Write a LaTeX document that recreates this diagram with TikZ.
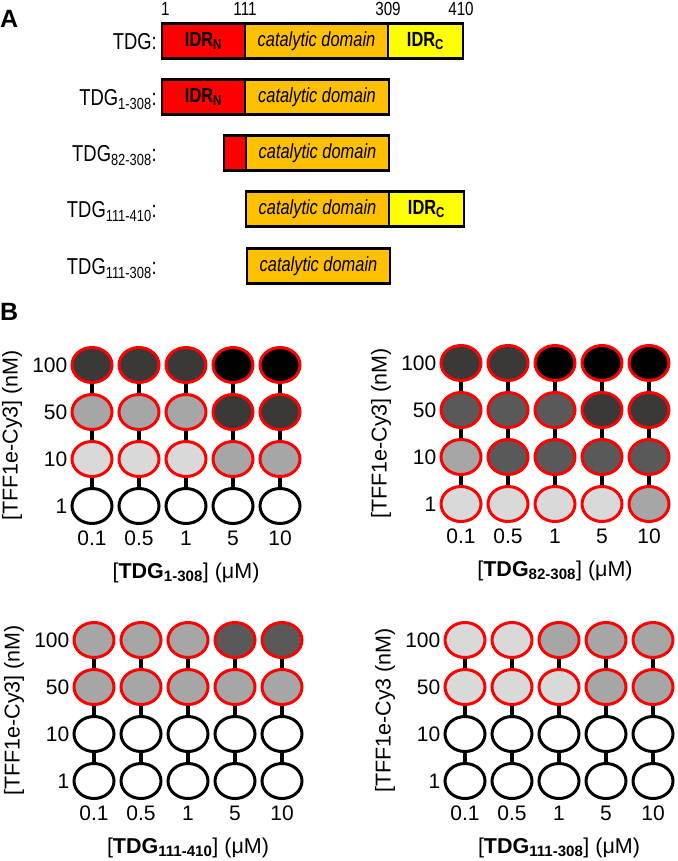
\documentclass[tikz,border=0pt]{standalone}
\usepackage{fontspec}
\setmainfont{Liberation Sans}
\newfontfamily\narrowfont[FakeStretch=0.8]{Liberation Sans}
\usepackage{xcolor}
\usepackage{tikz}
\usetikzlibrary{positioning, shapes.geometric}

\definecolor{idrred}{HTML}{FF0000}
\definecolor{catorange}{HTML}{FFC000}
\definecolor{idryellow}{HTML}{FFFF00}
% spot shades (fill / ring)
\colorlet{dotw}{white}\colorlet{ringw}{black}
\definecolor{dotl}{HTML}{D9D9D9}\colorlet{ringl}{red}
\definecolor{dotg}{HTML}{A6A6A6}\colorlet{ringg}{red}
\definecolor{dotm}{HTML}{595959}\colorlet{ringm}{red}
\definecolor{dotd}{HTML}{3B3838}\colorlet{ringd}{red}
\colorlet{dotk}{black}\colorlet{ringk}{red}

\begin{document}
\begin{tikzpicture}[
        x=1pt, y=-1pt,
        seg/.style={rectangle, draw=black, line width=2.4pt, minimum height=35pt, inner sep=0pt, outer sep=0pt, font=\narrowfont\fontsize{20.5}{22}\selectfont},
        construct/.style={anchor=base east, inner sep=0pt, font=\narrowfont\fontsize{23}{26}\selectfont},
        resnum/.style={inner sep=0pt, font=\narrowfont\fontsize{19}{20}\selectfont},
        panel/.style={anchor=north west, inner sep=0pt, font=\bfseries\fontsize{25}{28}\selectfont},
        spot/.style={ellipse, minimum width=40pt, minimum height=35pt, inner sep=0pt, line width=3pt, fill=dot#1, draw=ring#1},
        link/.style={line width=3.2pt, draw=black},
        ticklbl/.style={inner sep=0pt, font=\fontsize{21}{24}\selectfont},
        axtitle/.style={inner sep=0pt, font=\fontsize{21.5}{24}\selectfont},
    ]
        \useasboundingbox (0,0) rectangle (677,861);

        % Panel letters
        \node[panel] (pa) at (0,10) {A};
        \node[panel] (pb) at (0,303) {B};

        % Residue numbers
        \node[resnum, anchor=west] (r1) at (161,9) {1};
        \node[resnum] (r111) at (245,9) {111};
        \node[resnum] (r309) at (388,9) {309};
        \node[resnum] (r410) at (461,9) {410};

        % Full-length TDG
        \node[seg, fill=idrred, minimum width=83pt, anchor=west] (fl-n) at (162,41) {\textbf{IDR\textsubscript{N}}};
        \node[seg, fill=catorange, minimum width=143pt, right=0pt of fl-n] (fl-cat) {\itshape catalytic domain};
        \node[seg, fill=idryellow, minimum width=75pt, right=0pt of fl-cat] (fl-c) {\textbf{IDR\textsubscript{C}}};
        \node[construct] (fl-lbl) at (157,49.5) {TDG:};

        % TDG 1-308
        \node[seg, fill=idrred, minimum width=83pt, anchor=west] (t1-n) at (162,97) {\textbf{IDR\textsubscript{N}}};
        \node[seg, fill=catorange, minimum width=144pt, right=0pt of t1-n] (t1-cat) {\itshape catalytic domain};
        \node[construct] (t1-lbl) at (157,105.5) {TDG\textsubscript{1-308}:};

        % TDG 82-308
        \node[seg, fill=idrred, minimum width=22pt, anchor=west] (t82-n) at (224,153) {};
        \node[seg, fill=catorange, minimum width=143pt, right=0pt of t82-n] (t82-cat) {\itshape catalytic domain};
        \node[construct] (t82-lbl) at (157,161.5) {TDG\textsubscript{82-308}:};

        % TDG 111-410
        \node[seg, fill=catorange, minimum width=143pt, anchor=west] (t111-cat) at (246,209) {\itshape catalytic domain};
        \node[seg, fill=idryellow, minimum width=75pt, right=0pt of t111-cat] (t111-c) {\textbf{IDR\textsubscript{C}}};
        \node[construct] (t111-lbl) at (157,217.5) {TDG\textsubscript{111-410}:};

        % TDG 111-308
        \node[seg, fill=catorange, minimum width=143pt, anchor=west] (tcd-cat) at (247,266) {\itshape catalytic domain};
        \node[construct] (tcd-lbl) at (157,274.5) {TDG\textsubscript{111-308}:};

        % Binding grids
        \foreach \g/\ox/\oy/\spots/\sub/\ytext in {
            a/92/365/{d,d,d,k,k,g,g,g,d,d,l,l,l,g,g,w,w,w,w,w}/1-308/{[TFF1e-Cy3] (nM)},
            b/461/363/{d,d,k,k,k,m,m,m,d,d,g,m,m,m,m,l,l,l,l,g}/82-308/{[TFF1e-Cy3] (nM)},
            c/94/640/{g,g,g,m,m,g,g,g,g,g,w,w,w,w,w,w,w,w,w,w}/111-410/{[TFF1e-Cy3] (nM)},
            d/465/640/{l,l,g,g,g,l,l,l,g,g,w,w,w,w,w,w,w,w,w,w}/111-308/{[TFF1e-Cy3 (nM)}} {
            \foreach \s [count=\k from 0] in \spots {
                \pgfmathtruncatemacro\r{int(\k/5)+1}
                \pgfmathtruncatemacro\c{mod(\k,5)+1}
                \node[spot=\s] (\g-\r-\c) at (\ox+47*\c-47, \oy+47*\r-47) {};
            }
            \foreach \r in {1,...,4}
                \foreach \c [evaluate=\c as \n using int(\c+1)] in {1,...,4}
                    \draw[link] (\g-\r-\c) -- (\g-\r-\n);
            \foreach \r [evaluate=\r as \n using int(\r+1)] in {1,...,3}
                \foreach \c in {1,...,5}
                    \draw[link] (\g-\r-\c) -- (\g-\n-\c);
            \foreach \v [count=\r] in {100,50,10,1}
                \node[ticklbl, left=3pt of \g-\r-1] (\g-yt\r) {\v};
            \foreach \v [count=\c] in {0.1,0.5,1,5,10}
                \node[ticklbl, below=6pt of \g-4-\c] (\g-xt\c) {\v};
            \node[axtitle] (\g-xt) at (\ox+94, \oy+208) {[\textbf{TDG\textsubscript{\sub}}] (μM)};
            \node[axtitle, rotate=90] (\g-yl) at (\ox-80, \oy+70.5) {\ytext};
        }
    \end{tikzpicture}
\end{document}
